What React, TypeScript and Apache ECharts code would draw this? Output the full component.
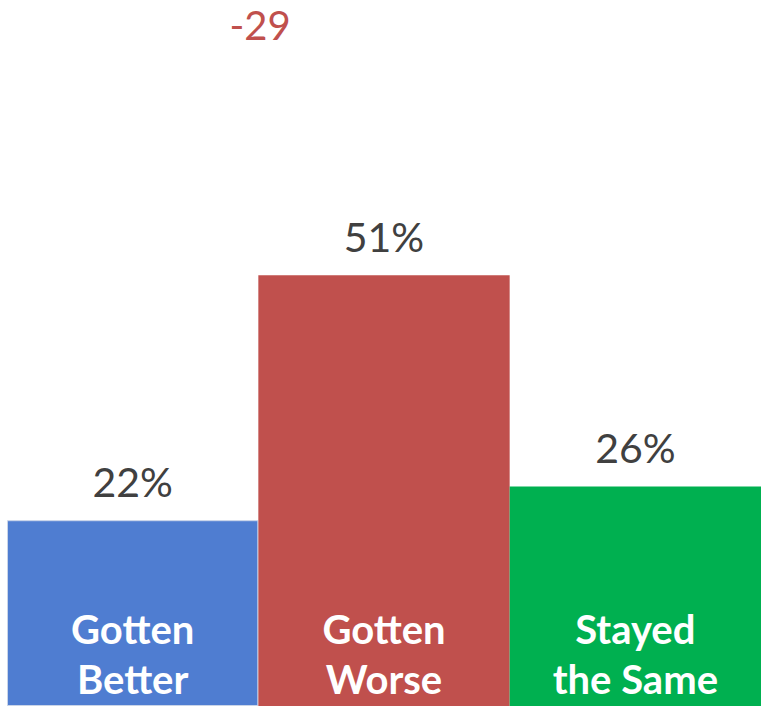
import React, { useEffect, useRef } from "react";
import * as echarts from "echarts";

const categories = ["Gotten\nBetter", "Gotten\nWorse", "Stayed\nthe Same"];
const values = [22, 51, 26];
const barColors = ["#4F7DD1", "#C0504D", "#00B050"];
const netLabel = "-29";

export default function App() {
  const ref = useRef<HTMLDivElement>(null);
  useEffect(() => {
    const chart = echarts.init(ref.current!, undefined, { renderer: "svg" });
    chart.setOption({
      animation: false,
      grid: { left: 7, right: 0, top: 0, bottom: -2 },
      xAxis: {
        type: "category",
        data: categories,
        axisLine: { show: false },
        axisTick: { show: false },
        axisLabel: {
          inside: true,
          margin: 2,
          color: "#ffffff",
          fontFamily: "Lato",
          fontWeight: "bold",
          fontSize: 40,
          lineHeight: 50,
          verticalAlign: "bottom",
        },
        z: 10,
      },
      yAxis: {
        type: "value",
        min: 0,
        max: 83.6,
        show: false,
        splitLine: { show: false },
      },
      series: [
        {
          type: "bar",
          barCategoryGap: "0%",
          data: values.map((v, i) => ({
            value: v,
            itemStyle: {
              color: barColors[i],
              borderColor: i === 0 ? "#c9d4e8" : barColors[i],
              borderWidth: i === 0 ? 1 : 0,
            },
          })),
          label: {
            show: true,
            position: "top",
            distance: 18,
            formatter: "{c}%",
            color: "#404040",
            fontFamily: "Lato",
            fontSize: 41,
          },
        },
      ],
      graphic: [
        {
          type: "text",
          x: 260,
          y: 25,
          style: {
            text: netLabel,
            fill: "#C0504D",
            font: "40px Lato",
            textAlign: "center",
            textVerticalAlign: "middle",
          },
        },
      ],
    });
    return () => chart.dispose();
  }, []);
  return (
    <div
      ref={ref}
      style={{ position: "absolute", left: 0, top: 0, width: 761, height: 706 }}
    />
  );
}
